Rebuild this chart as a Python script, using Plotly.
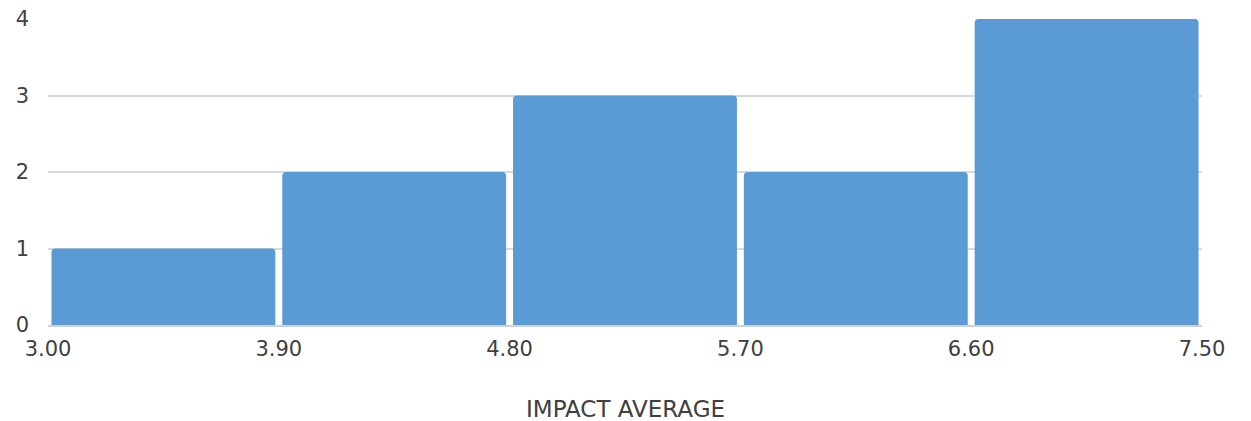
import plotly.graph_objects as go

# Histogram of impact averages: bin edges and counts per bin
bin_edges = [3.00, 3.90, 4.80, 5.70, 6.60, 7.50]
counts = [1, 2, 3, 2, 4]
tick_labels = ["3.00", "3.90", "4.80", "5.70", "6.60", "7.50"]
x_title = "IMPACT AVERAGE"

centers = [(a + b) / 2 for a, b in zip(bin_edges[:-1], bin_edges[1:])]
widths = [(b - a) * 0.97 for a, b in zip(bin_edges[:-1], bin_edges[1:])]

fig = go.Figure(
    go.Bar(
        x=centers,
        y=counts,
        width=widths,
        marker=dict(color="#5B9BD5", line=dict(width=0), cornerradius=4),
        hoverinfo="x+y",
    )
)

font_family = "DejaVu Sans"
text_color = "#404040"

fig.update_layout(
    width=1251,
    height=421,
    margin=dict(l=48, r=49, t=19, b=96),
    paper_bgcolor="white",
    plot_bgcolor="white",
    showlegend=False,
    font=dict(family=font_family, color=text_color),
)

fig.update_xaxes(
    range=[bin_edges[0], bin_edges[-1]],
    tickmode="array",
    tickvals=bin_edges,
    ticktext=tick_labels,
    tickfont=dict(size=21, color=text_color),
    showgrid=False,
    zeroline=False,
    showline=True,
    linecolor="#d0d0d0",
    linewidth=1.5,
    ticks="",
    ticklabelstandoff=4,
    automargin=False,
)

fig.update_yaxes(
    range=[0, 4],
    tickmode="array",
    tickvals=[0, 1, 2, 3, 4],
    tickfont=dict(size=21, color=text_color),
    showgrid=True,
    gridcolor="#d9d9d9",
    gridwidth=1.5,
    zeroline=False,
    showline=False,
    ticks="",
    ticklabelstandoff=18,
    automargin=False,
)

# Axis title placed below the tick labels
fig.add_annotation(
    text=x_title,
    xref="paper",
    yref="paper",
    x=0.5,
    y=0,
    xanchor="center",
    yanchor="middle",
    yshift=-84,
    showarrow=False,
    font=dict(size=23, color=text_color, family=font_family),
)

fig.write_html("out.html")
